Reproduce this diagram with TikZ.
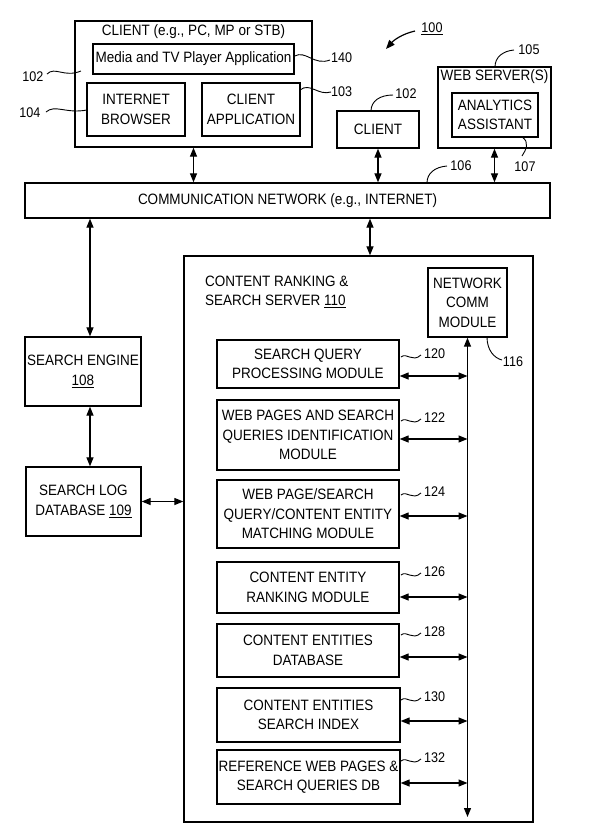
\documentclass[tikz,border=0pt]{standalone}
\usepackage{fontspec}
\setmainfont{Liberation Sans}[FakeStretch=0.9]
\usetikzlibrary{arrows.meta}
\newcommand\myfs{\fontsize{15}{19.5}\selectfont}
\newcommand\lblfs{\fontsize{14}{16}\selectfont}
\begin{document}
\begin{tikzpicture}[x=1pt,y=-1pt,
  box/.style={draw, line width=1.3pt, inner sep=0pt, align=center, font=\myfs},
  txt/.style={inner sep=0pt, align=center, font=\myfs},
  lbl/.style={inner sep=0pt, anchor=west, font=\lblfs},
  arr/.style={line width=1.2pt, {Triangle[length=9pt,width=7pt]}-{Triangle[length=9pt,width=7pt]}},
  lead/.style={line width=0.9pt}
]
\useasboundingbox (0,0) rectangle (592,839);

% client group
\node[box,minimum width=237pt,minimum height=126pt] (client) at (193.5,84) {};
\node[txt] (clienttitle) at (193.5,32) {CLIENT (e.g., PC, MP or STB)};
\node[box,minimum width=201pt,minimum height=30pt] (media) at (193.5,59) {Media and TV Player Application};
\node[box,minimum width=98pt,minimum height=53pt] (browser) at (136,109.5) {INTERNET\\BROWSER};
\node[box,minimum width=98pt,minimum height=53pt] (capp) at (251,109.5) {CLIENT\\APPLICATION};

\node[box,minimum width=525pt,minimum height=35pt] (net) at (287.5,200.5) {COMMUNICATION NETWORK (e.g., INTERNET)};
\node[box,minimum width=82pt,minimum height=37pt] (client2) at (378,129.5) {CLIENT};
\node[box,minimum width=113pt,minimum height=81pt] (web) at (494.5,107.5) {};
\node[txt] (webtitle) at (494.5,77) {WEB SERVER(S)};
\node[box,minimum width=86pt,minimum height=44pt] (anal) at (495,115) {ANALYTICS\\ASSISTANT};

\node[box,minimum width=116pt,minimum height=69pt] (se) at (83,371.5) {SEARCH ENGINE\\\underline{108}};
\node[box,minimum width=115pt,minimum height=69pt] (sl) at (83.5,501.5) {SEARCH LOG\\DATABASE \underline{109}};

\node[box,minimum width=349pt,minimum height=566pt] (crs) at (358.5,539) {};
\node[txt,align=left,anchor=west] (crstitle) at (205,292) {CONTENT RANKING \&\\SEARCH SERVER \underline{110}};
\node[box,minimum width=79pt,minimum height=69pt] (ncm) at (467.5,302.5) {NETWORK\\COMM\\MODULE};

\node[box,minimum width=182pt,minimum height=48pt] (m1) at (308,364) {SEARCH QUERY\\PROCESSING MODULE};
\node[box,minimum width=182pt,minimum height=70pt] (m2) at (308,435) {WEB PAGES AND SEARCH\\QUERIES IDENTIFICATION\\MODULE};
\node[box,minimum width=182pt,minimum height=68pt] (m3) at (308,514) {WEB PAGE/SEARCH\\QUERY/CONTENT ENTITY\\MATCHING MODULE};
\node[box,minimum width=182pt,minimum height=51pt] (m4) at (308,587.5) {CONTENT ENTITY\\RANKING MODULE};
\node[box,minimum width=182pt,minimum height=53pt] (m5) at (308,650.5) {CONTENT ENTITIES\\DATABASE};
\node[box,minimum width=183pt,minimum height=54pt] (m6) at (308.5,715) {CONTENT ENTITIES\\SEARCH INDEX};
\node[box,minimum width=183pt,minimum height=54pt] (m7) at (308.5,777) {REFERENCE WEB PAGES \&\\SEARCH QUERIES DB};

% arrows top
\draw[arr] (client.south) -- (client.south |- net.north);
\draw[arr] (client2.south) -- (client2.south |- net.north);
\draw[arr] (web.south) -- (web.south |- net.north);
\draw[arr] ([xshift=7pt]se.north |- net.south) -- ([xshift=7pt]se.north);
\draw[arr] ([xshift=7pt]se.south) -- ([xshift=7pt]se.south |- sl.north);
\draw[arr] (sl.east) -- (sl.east -| crs.west);
\draw[arr] ([xshift=11.5pt]crs.north |- net.south) -- ([xshift=11.5pt]crs.north);

% bus
\coordinate (busend) at (468,817);
\draw[arr] (ncm.south) -- (ncm.south |- busend);
\coordinate (y1) at (0,376);
\coordinate (y2) at (0,439);
\coordinate (y3) at (0,516);
\coordinate (y4) at (0,597);
\coordinate (y5) at (0,657);
\coordinate (y6) at (0,721);
\coordinate (y7) at (0,783);
\foreach \i in {1,...,7}{
  \draw[arr] (m\i.east |- y\i) -- (ncm.south |- y\i);
}

% module labels
\foreach \i/\n/\yy in {1/120/354,2/122/418,3/124/492,4/126/572,5/128/632,6/130/697,7/132/758}{
  \draw[lead] (401,\yy+3) .. controls (407,\yy-2) and (412,\yy+9) .. (421,\yy+1);
  \node[lbl] (l\n) at (424,\yy) {\n};
}

% other labels
\node[lbl,anchor=center] (l102a) at (33,77) {102};
\draw[lead] (47,74) .. controls (55,66) and (64,78) .. (81,71);
\node[lbl,anchor=center] (l104) at (30,113) {104};
\draw[lead] (46,112) .. controls (55,104) and (66,114) .. (87,110);
\node[lbl] (l140) at (331,58) {140};
\draw[lead] (media.east |- 0,56) .. controls (306,50) and (314,66) .. (330,60);
\node[lbl] (l103) at (331,92) {103};
\draw[lead] (300,90) .. controls (310,82) and (318,96) .. (331,92);
\node[lbl,anchor=center] (l102b) at (406,94) {102};
\draw[lead] (371,111) .. controls (371,101) and (380,95) .. (393,95);
\node[lbl,anchor=center] (l105) at (529,50) {105};
\draw[lead] (495,67) .. controls (495,57) and (503,51) .. (514,50);
\node[lbl,anchor=center] (l107) at (525,167) {107};
\draw[lead] (522,137) .. controls (530,142) and (526,150) .. (522,156);
\node[lbl,anchor=center] (l106) at (461,166) {106};
\draw[lead] (427,183) .. controls (427,173) and (435,167) .. (447,166);
\node[lbl,anchor=center] (l116) at (513,362) {116};
\draw[lead] (487,337) .. controls (487,350) and (494,358) .. (502,360);
\node[lbl,anchor=center] (l100) at (432,29) {\underline{100}};
\draw[line width=1.2pt,-{Triangle[length=9pt,width=7pt]}] (415,31) .. controls (402,34) and (394,40) .. (386,49);
\end{tikzpicture}
\end{document}
